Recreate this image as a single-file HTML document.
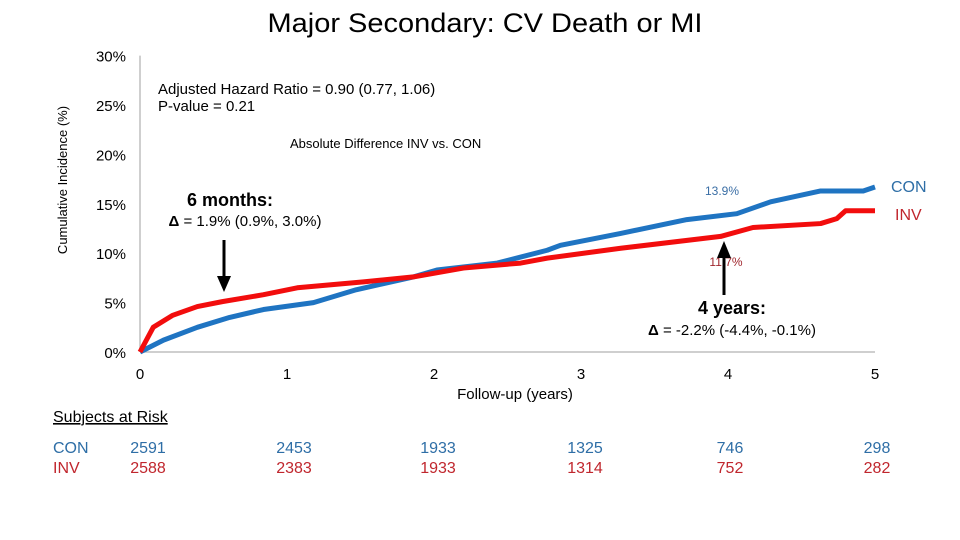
<!DOCTYPE html>
<html><head><meta charset="utf-8"><style>
body{margin:0;background:#fff;}
svg{display:block;font-family:"Liberation Sans",sans-serif;}
</style></head><body>
<svg id="chart" width="960" height="540" viewBox="0 0 960 540" xmlns="http://www.w3.org/2000/svg">
<text x="485" y="32" text-anchor="middle" font-size="27" textLength="435" lengthAdjust="spacingAndGlyphs" font-family="'Liberation Sans Narrow','Liberation Sans',sans-serif">Major Secondary:  CV Death or MI</text>
<g id="axes"></g>
<g id="series"></g>
<text transform="translate(67,180) rotate(-90)" text-anchor="middle" font-size="13">Cumulative Incidence (%)</text>
<text x="515" y="399" text-anchor="middle" font-size="15">Follow-up (years)</text>
<text x="158" y="94" font-size="15">Adjusted Hazard Ratio = 0.90 (0.77, 1.06)</text>
<text x="158" y="111" font-size="15">P-value = 0.21</text>
<text x="290" y="148" font-size="13">Absolute Difference INV vs. CON</text>
<text x="230" y="206" text-anchor="middle" font-size="18" font-weight="bold">6 months:</text>
<text x="245" y="226" text-anchor="middle" font-size="15"><tspan font-weight="bold">Δ</tspan> = 1.9% (0.9%, 3.0%)</text>
<g><line x1="224" y1="240" x2="224" y2="278" stroke="#000" stroke-width="3"/><polygon points="217,276 231,276 224,292" fill="#000"/></g>
<text x="722" y="195" text-anchor="middle" font-size="12" fill="#3a6ea5">13.9%</text>
<text x="726" y="266" text-anchor="middle" font-size="12" fill="#a0262d">11.7%</text>
<g><line x1="724" y1="256" x2="724" y2="295" stroke="#000" stroke-width="3"/><polygon points="717,258 731,258 724,241" fill="#000"/></g>
<text x="732" y="314" text-anchor="middle" font-size="18" font-weight="bold">4 years:</text>
<text x="732" y="335" text-anchor="middle" font-size="15"><tspan font-weight="bold">Δ</tspan> = -2.2% (-4.4%, -0.1%)</text>
<text x="891" y="192" font-size="16" fill="#2e6ea6">CON</text>
<text x="895" y="220" font-size="16" fill="#c0262d">INV</text>
<text x="53" y="422" font-size="16" text-decoration="underline">Subjects at Risk</text>
<text x="53" y="453" font-size="16" fill="#2e6ea6">CON</text>
<text x="53" y="473" font-size="16" fill="#c0262d">INV</text>
<g id="risk"></g>
</svg>
<script>
const xTicks = [0,1,2,3,4,5];
const yTicks = [0,5,10,15,20,25,30];
const conT = [0,0.16,0.39,0.61,0.84,1.18,1.47,1.86,2.02,2.43,2.77,2.86,3.27,3.72,4.06,4.29,4.63,4.92,5.0];
const conV = [0,1.2,2.5,3.5,4.3,5.0,6.3,7.6,8.3,9.0,10.3,10.8,12.0,13.4,14.0,15.2,16.3,16.3,16.7];
const invT = [0,0.09,0.22,0.39,0.56,0.84,1.07,1.52,1.86,2.2,2.59,2.77,3.27,3.95,4.17,4.63,4.74,4.8,5.0];
const invV = [0,2.5,3.7,4.6,5.1,5.8,6.5,7.1,7.6,8.5,9.0,9.5,10.5,11.7,12.6,13.0,13.5,14.3,14.3];
const riskYears = [0,1,2,3,4,5];
const riskCon = [2591,2453,1933,1325,746,298];
const riskInv = [2588,2383,1933,1314,752,282];

const NS="http://www.w3.org/2000/svg";
const X = t => 140 + t*147;
const Y = v => 352 - v*9.88;
function mk(tag, attrs, parent, text){const e=document.createElementNS(NS,tag);for(const k in attrs)e.setAttribute(k,attrs[k]);if(text!==undefined)e.textContent=text;parent.appendChild(e);return e;}
const axes=document.getElementById('axes');
let l=mk('line',{x1:X(0),y1:Y(30),x2:X(0),y2:Y(0),stroke:'#bfbfbf','stroke-width':1.5},axes);


l=mk('line',{x1:X(0),y1:Y(0),x2:X(5),y2:Y(0),stroke:'#bfbfbf','stroke-width':1.5},axes);


yTicks.forEach(v=>{const t=mk('text',{x:126,y:Y(v)+6,'text-anchor':'end','font-size':15},axes,v+'%');

});
xTicks.forEach(v=>{const t=mk('text',{x:X(v),y:379,'text-anchor':'middle','font-size':15},axes,String(v));

});
const series=document.getElementById('series');
function draw(T,V,color,name){const pts=T.map((t,i)=>X(t)+','+Y(V[i])).join(' ');
const p=mk('polyline',{points:pts,fill:'none',stroke:color,'stroke-width':5,'stroke-linejoin':'round'},series);

}
draw(conT,conV,'#1f74c2','con-curve');
draw(invT,invV,'#f20d0d','inv-curve');
const risk=document.getElementById('risk');
riskYears.forEach((yr,i)=>{const rx=X(yr)+(i===0?8:(i===1?7:(i<4?4:2)));
let t=mk('text',{x:rx,y:453,'text-anchor':'middle','font-size':16,fill:'#2e6ea6'},risk,String(riskCon[i]));


t=mk('text',{x:rx,y:473,'text-anchor':'middle','font-size':16,fill:'#c0262d'},risk,String(riskInv[i]));

});
</script>
</body></html>
